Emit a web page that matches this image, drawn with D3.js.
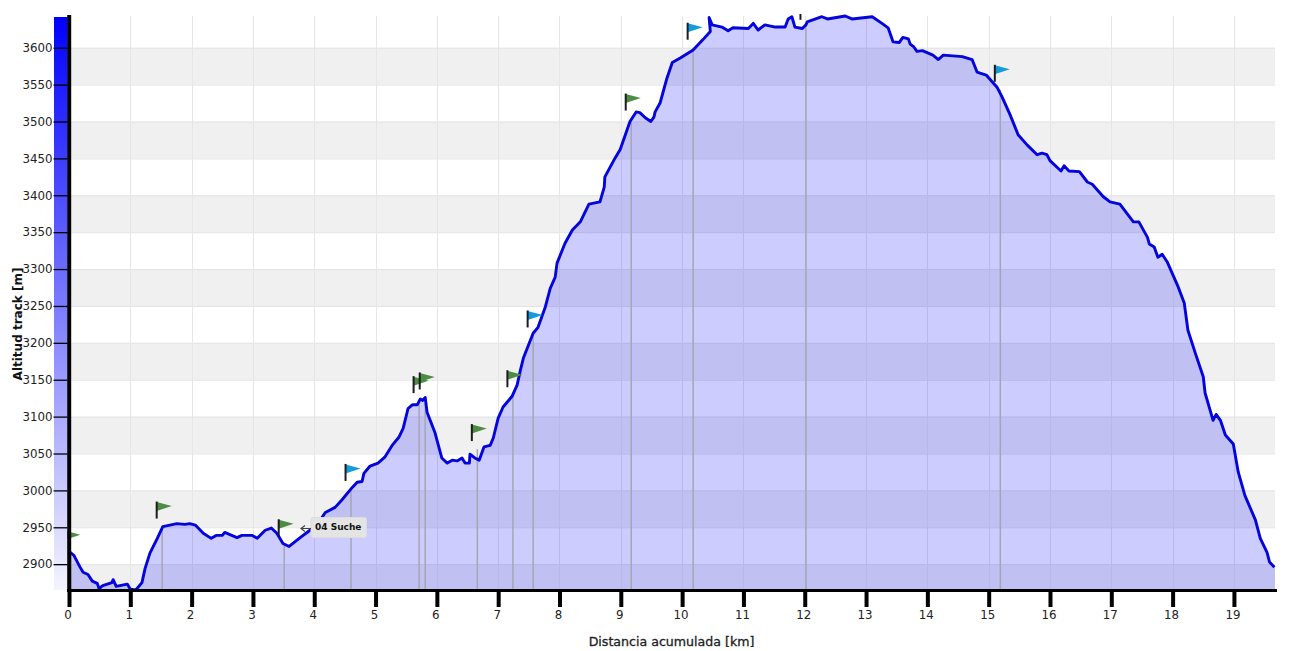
<!DOCTYPE html>
<html><head><meta charset="utf-8">
<script src="https://cdn.jsdelivr.net/npm/d3@7"></script>
<style>html,body{margin:0;padding:0;background:#fff;overflow:hidden}svg{display:block}</style>
</head><body>
<svg id="c" width="1307" height="651"></svg>
<script>
const distanceKm = [0.02,0.08,0.18,0.23,0.31,0.38,0.46,0.49,0.55,0.70,0.72,0.77,0.95,1.00,1.09,1.19,1.24,1.32,1.44,1.53,1.76,1.89,1.97,2.06,2.19,2.32,2.40,2.50,2.54,2.74,2.82,2.99,3.07,3.20,3.30,3.39,3.49,3.59,3.77,3.93,4.06,4.18,4.34,4.45,4.62,4.70,4.78,4.81,4.91,5.04,5.15,5.27,5.38,5.45,5.53,5.60,5.68,5.73,5.77,5.81,5.84,5.97,6.08,6.17,6.25,6.33,6.41,6.46,6.53,6.54,6.62,6.69,6.77,6.87,6.92,7.00,7.08,7.23,7.31,7.36,7.41,7.57,7.65,7.77,7.85,7.93,7.96,8.09,8.21,8.34,8.48,8.66,8.73,8.74,8.91,8.99,9.15,9.25,9.31,9.40,9.49,9.54,9.56,9.64,9.69,9.75,9.84,9.97,10.18,10.34,10.46,10.44,10.49,10.65,10.75,10.83,11.08,11.16,11.24,11.35,11.52,11.68,11.73,11.79,11.84,11.96,12.02,12.04,12.28,12.37,12.66,12.77,13.10,13.26,13.36,13.44,13.54,13.60,13.69,13.72,13.78,13.83,13.92,14.09,14.18,14.26,14.57,14.73,14.81,14.96,15.14,15.22,15.35,15.48,15.63,15.79,15.87,15.95,16.00,16.18,16.23,16.31,16.48,16.61,16.69,16.87,16.98,17.14,17.36,17.45,17.59,17.62,17.70,17.76,17.83,17.91,18.08,18.19,18.25,18.37,18.50,18.53,18.66,18.71,18.78,18.86,18.99,19.07,19.18,19.35,19.43,19.54,19.58,19.66];
const altitudeM = [2916,2912,2896,2889,2886,2877,2874,2867,2871,2875,2879,2870,2873,2866,2865,2875,2894,2915,2935,2951,2955,2954,2955,2953,2942,2935,2939,2939,2943,2936,2939,2939,2935,2946,2949,2942,2928,2924,2936,2946,2955,2970,2977,2987,3004,3011,3012,3023,3033,3037,3045,3061,3072,3084,3111,3116,3116,3124,3122,3126,3106,3078,3044,3037,3041,3040,3044,3037,3037,3049,3044,3041,3059,3061,3071,3098,3113,3128,3143,3162,3179,3213,3221,3249,3274,3289,3308,3335,3353,3364,3388,3391,3411,3425,3451,3462,3500,3513,3512,3505,3500,3506,3513,3525,3540,3558,3580,3586,3597,3611,3622,3641,3631,3628,3623,3627,3626,3633,3624,3631,3628,3628,3639,3642,3628,3626,3631,3635,3642,3639,3643,3639,3642,3633,3627,3608,3607,3614,3612,3605,3601,3595,3596,3590,3584,3590,3588,3584,3567,3563,3546,3533,3509,3482,3468,3455,3457,3455,3447,3433,3440,3433,3432,3418,3415,3398,3391,3388,3364,3364,3343,3334,3330,3316,3320,3310,3278,3254,3217,3186,3154,3132,3095,3103,3095,3075,3063,3025,2993,2960,2935,2916,2903,2896];
const flagKm = [0.03,1.52,3.51,4.60,5.71,5.81,6.66,7.24,7.57,9.17,10.18,12.02,15.19];
const flagAlt = [2912,2951,2927,3002,3121,3126,3056,3129,3210,3504,3600,3627,3543];
const flagKind = ["green","green","green","blue","green","green","green","green","blue","green","blue","green","blue"];
const xTicks = d3.range(0,20);
const yTicks = d3.range(2900,3601,50);
const bandLows = [2865,2950,3050,3150,3250,3350,3450,3550];
const bandHighs = [2900,3000,3100,3200,3300,3400,3500,3600];
const noteText = "04 Suche";
const xTitle = "Distancia acumulada [km]";
const yTitle = "Altitud track [m]";

const FONT = '"DejaVu Sans",sans-serif';
const kmMax = 19.67, altMin = 2865, altMax = 3643;
const x = d3.scaleLinear().domain([0,kmMax]).range([69,1275]);
const y = d3.scaleLinear().domain([altMin,altMax]).range([590,16]);
const svg = d3.select("#c");
const profile = distanceKm.map((d,i)=>({km:d,alt:altitudeM[i]}));

const defs = svg.append("defs");
const g = defs.append("linearGradient").attr("id","bar").attr("x1",0).attr("x2",0).attr("y1",0).attr("y2",1);
g.append("stop").attr("offset","0%").attr("stop-color","#0000ff");
g.append("stop").attr("offset","100%").attr("stop-color","#f4f4ff");
defs.append("clipPath").attr("id","top").append("rect").attr("x",0).attr("y",14).attr("width",1307).attr("height",637);

// bands
svg.append("g").selectAll("rect").data(bandLows).join("rect")
  .attr("x",x(0)).attr("width",x(kmMax)-x(0))
  .attr("y",(d,i)=>y(bandHighs[i])).attr("height",(d,i)=>y(d)-y(bandHighs[i]))
  .attr("fill","#f0f0f0");
// horizontal grid
svg.append("g").selectAll("line").data(yTicks).join("line")
  .attr("x1",x(0)).attr("x2",x(kmMax)).attr("y1",d=>y(d)+.5).attr("y2",d=>y(d)+.5)
  .attr("stroke","#e4e4e4");
// vertical grid
svg.append("g").selectAll("line").data(xTicks.slice(1)).join("line")
  .attr("x1",d=>Math.round(x(d))+.5).attr("x2",d=>Math.round(x(d))+.5).attr("y1",16).attr("y2",590)
  .attr("stroke","#e6e6e6");

// area
const area = d3.area().x(d=>x(d.km)).y0(y(altMin)).y1(d=>y(d.alt));
svg.append("path").datum([{km:0,alt:profile[0].alt},...profile,{km:kmMax,alt:profile[profile.length-1].alt}])
  .attr("d",area).attr("fill","#0000ff").attr("fill-opacity",.2);

// waypoint stems
svg.append("g").selectAll("line").data(flagKm).join("line")
  .attr("x1",d=>x(d)).attr("x2",d=>x(d))
  .attr("y1",y(altMin)).attr("y2",(d,i)=>y(flagAlt[i]))
  .attr("stroke","#a6a6b2").attr("stroke-width",1.5);

// profile line
const line = d3.line().x(d=>x(d.km)).y(d=>y(d.alt));
svg.append("path").datum(profile).attr("d",line).attr("fill","none")
  .attr("stroke","#0404dc").attr("stroke-width",2.9).attr("stroke-linejoin","round");

// flags
const flags = svg.append("g").attr("clip-path","url(#top)").selectAll("g")
  .data(flagKm).join("g")
  .attr("transform",(d,i)=>`translate(${x(d)-5.5},${y(flagAlt[i])-8})`);
flags.append("path").attr("d","M0,-16.5L15,-12.5L0,-7.5Z")
  .attr("fill",(d,i)=>flagKind[i]==="green"?"#4c8c45":"#149bdc");
flags.append("line").attr("x1",0).attr("x2",0).attr("y1",-17).attr("y2",0)
  .attr("stroke","#1c1c1c").attr("stroke-width",2);

// gradient bar
svg.append("rect").attr("x",54).attr("y",17).attr("width",13.5).attr("height",573).attr("fill","url(#bar)");

// y axis
const yAxis = svg.append("g").attr("transform","translate(67.5,0)")
  .call(d3.axisLeft(y).tickValues(yTicks).tickSize(14).tickPadding(1).tickFormat(d3.format("d")));
yAxis.select(".domain").remove();
yAxis.selectAll("line").attr("stroke","#000").attr("stroke-width",1.3);
yAxis.selectAll("text").attr("font-family",FONT).attr("font-size",11.8).attr("fill","#222");

// x axis
const xAxis = svg.append("g").attr("transform","translate(0,592)")
  .call(d3.axisBottom(x).tickValues(xTicks).tickSize(15).tickPadding(4).tickFormat(d3.format("d")));
xAxis.select(".domain").remove();
xAxis.selectAll("line").attr("stroke","#000").attr("stroke-width",4);
xAxis.selectAll("text").attr("font-family",FONT).attr("font-size",11.8).attr("fill","#222").attr("dx",-1.5);

// axis spines
svg.append("line").attr("x1",67).attr("x2",1277).attr("y1",590.5).attr("y2",590.5).attr("stroke","#000").attr("stroke-width",3.2);
svg.append("line").attr("x1",69.2).attr("x2",69.2).attr("y1",15).attr("y2",592).attr("stroke","#000").attr("stroke-width",4);

// titles
svg.append("text").attr("x",671.5).attr("y",646).attr("text-anchor","middle")
  .attr("font-family",FONT).attr("font-size",12.6).attr("stroke","#222").attr("stroke-width",.3).attr("fill","#222").text(xTitle);
svg.append("text").attr("transform","translate(22,324) rotate(-90)").attr("text-anchor","middle")
  .attr("font-family",FONT).attr("font-size",12).attr("font-weight",700).attr("fill","#111").text(yTitle);

// note
const note = svg.append("g");
note.append("rect").attr("x",311).attr("y",517.5).attr("width",55.5).attr("height",20).attr("rx",2)
  .attr("fill","#e4e4e4").attr("stroke","#dcdcdc");
note.append("text").attr("x",315).attr("y",530).attr("font-family",FONT).attr("font-size",9).attr("font-weight",700).attr("fill","#111").text(noteText);
note.append("path").attr("d","M311,528.5H301M305,525.5L301,528.5L305,531.5").attr("fill","none").attr("stroke","#444").attr("stroke-width",1.2);
</script>
</body></html>
